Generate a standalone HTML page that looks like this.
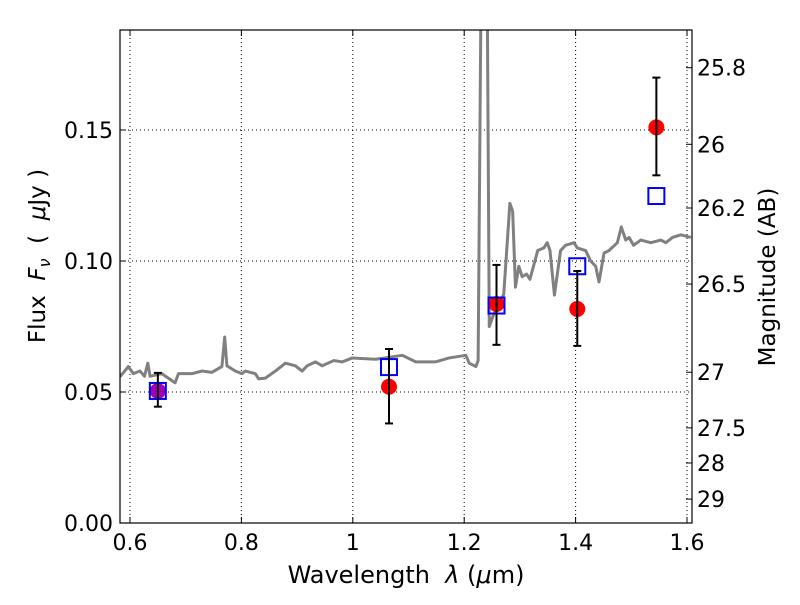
<!DOCTYPE html>
<html><head><meta charset="utf-8"><style>
body{margin:0;background:#fff;}
text{font-family:"DejaVu Sans","Liberation Sans",sans-serif;fill:#000;white-space:pre;}
</style></head><body>
<svg id="chart" width="800" height="600" xmlns="http://www.w3.org/2000/svg">
<rect width="800" height="600" fill="#fff"/>
<defs><clipPath id="plotclip"><rect x="120" y="30" width="572" height="493"/></clipPath></defs>
<g id="grid"></g>
<g id="spec" clip-path="url(#plotclip)"></g>
<g id="marks"></g>
<rect x="120" y="30" width="572" height="493" fill="none" stroke="#000" stroke-width="1.2"/>
<g id="axes"></g>
<text x="406" y="583" font-size="24" text-anchor="middle">Wavelength  <tspan font-style="italic">λ</tspan> (<tspan font-style="italic">μ</tspan>m)</text>
<text transform="translate(45,256) rotate(-90)" font-size="23" text-anchor="middle">Flux  <tspan font-style="italic">F</tspan><tspan font-style="italic" font-size="16" dy="5">ν</tspan><tspan dy="-5">  (  </tspan><tspan font-style="italic">μ</tspan>Jy )</text>
<text transform="translate(775,277) rotate(-90)" font-size="23" text-anchor="middle">Magnitude (AB)</text>
</svg>
<script>
const xTicks=[0.6,0.8,1.0,1.2,1.4,1.6];
const xTickLabels=["0.6","0.8","1","1.2","1.4","1.6"];
const yTicks=[0,0.05,0.10,0.15];
const yTickLabels=["0.00","0.05","0.10","0.15"];
const magTicks=[25.8,26,26.2,26.5,27,27.5,28,29];
const magTickLabels=["25.8","26","26.2","26.5","27","27.5","28","29"];
const obsWave=[0.65,1.065,1.258,1.403,1.545];
const obsFlux=[0.0504,0.052,0.0836,0.0817,0.151];
const obsErrLo=[0.006,0.014,0.0156,0.0141,0.0183];
const obsErrHi=[0.0069,0.0144,0.0149,0.0145,0.019];
const modelFlux=[0.0504,0.0595,0.083,0.098,0.1248];
const specWave=[0.582,0.597,0.606,0.618,0.626,0.632,0.636,0.657,0.681,0.687,0.711,0.729,0.747,0.765,0.770,0.774,0.789,0.801,0.807,0.825,0.831,0.843,0.861,0.879,0.897,0.909,0.918,0.933,0.945,0.966,0.981,0.999,1.041,1.089,1.113,1.149,1.173,1.203,1.209,1.221,1.225,1.232,1.236,1.240,1.245,1.253,1.271,1.282,1.287,1.292,1.298,1.304,1.312,1.318,1.332,1.343,1.349,1.354,1.362,1.373,1.382,1.397,1.403,1.418,1.427,1.436,1.442,1.451,1.46,1.475,1.482,1.49,1.496,1.504,1.517,1.535,1.553,1.562,1.574,1.589,1.607];
const specFlux=[0.0558,0.0597,0.057,0.058,0.056,0.061,0.056,0.057,0.0535,0.057,0.057,0.058,0.0575,0.0597,0.071,0.060,0.058,0.057,0.058,0.057,0.055,0.0553,0.058,0.061,0.060,0.058,0.060,0.0615,0.060,0.062,0.0615,0.063,0.0625,0.064,0.0615,0.0615,0.063,0.064,0.061,0.0597,0.062,0.25,0.3,0.25,0.075,0.0797,0.0873,0.122,0.119,0.090,0.098,0.094,0.095,0.093,0.104,0.105,0.107,0.104,0.087,0.104,0.106,0.107,0.105,0.104,0.100,0.098,0.092,0.103,0.104,0.107,0.113,0.108,0.109,0.106,0.108,0.107,0.108,0.107,0.109,0.110,0.109];

const NS="http://www.w3.org/2000/svg";
const X=w=>130+(w-0.6)*557;
const Y=f=>523-f*2620;
const magToFlux=m=>Math.pow(10,(23.9-m)/2.5);
function mk(tag,attrs,parent){const e=document.createElementNS(NS,tag);for(const k in attrs)e.setAttribute(k,attrs[k]);parent.appendChild(e);return e;}
const grid=document.getElementById('grid'),axes=document.getElementById('axes'),spec=document.getElementById('spec'),marks=document.getElementById('marks');

xTicks.forEach((t,i)=>{const x=X(t);
 const g=mk('line',{x1:x,x2:x,y1:30,y2:523,stroke:'#000','stroke-width':1,'stroke-dasharray':'1,3'},grid);
 
 
 mk('line',{x1:x,x2:x,y1:523,y2:517,stroke:'#000'},axes);
 mk('line',{x1:x,x2:x,y1:30,y2:36,stroke:'#000'},axes);
 const tx=mk('text',{x:x,y:550,'font-size':22,'text-anchor':'middle'},axes);tx.textContent=xTickLabels[i];
 
 
});
yTicks.forEach((t,i)=>{const y=Y(t);
 const g=mk('line',{x1:120,x2:692,y1:y,y2:y,stroke:'#000','stroke-width':1,'stroke-dasharray':'1,3'},grid);
 
 
 mk('line',{x1:120,x2:126,y1:y,y2:y,stroke:'#000'},axes);
 const tx=mk('text',{x:113,y:y+8,'font-size':22,'text-anchor':'end'},axes);tx.textContent=yTickLabels[i];
 
 
});
magTicks.forEach((m,i)=>{const y=Y(magToFlux(m));
 mk('line',{x1:686,x2:692,y1:y,y2:y,stroke:'#000'},axes);
 const tx=mk('text',{x:697,y:y+8,'font-size':22},axes);tx.textContent=magTickLabels[i];
 
 
});
const pl=mk('polyline',{points:specWave.map((w,i)=>X(w)+','+Y(specFlux[i])).join(' '),fill:'none',stroke:'#808080','stroke-width':3,'stroke-linejoin':'round'},spec);


obsWave.forEach((w,i)=>{const x=X(w),y0=Y(obsFlux[i]-obsErrLo[i]),y1=Y(obsFlux[i]+obsErrHi[i]);
 const purple=i===0;
 const c=mk('circle',{cx:x,cy:Y(obsFlux[i]),r:8,fill:purple?'#a000b0':'#ff0000'},marks);
 
 
 const s=mk('rect',{x:x-8,y:Y(modelFlux[i])-8,width:16,height:16,fill:'none',stroke:'#0000ff','stroke-width':2},marks);
 
 
 const e=mk('g',{},marks);
 
 
 mk('line',{x1:x,x2:x,y1:y0,y2:y1,stroke:'#000','stroke-width':2},e);
 mk('line',{x1:x-4,x2:x+4,y1:y0,y2:y0,stroke:'#000','stroke-width':2},e);
 mk('line',{x1:x-4,x2:x+4,y1:y1,y2:y1,stroke:'#000','stroke-width':2},e);
});
</script>
</body></html>
